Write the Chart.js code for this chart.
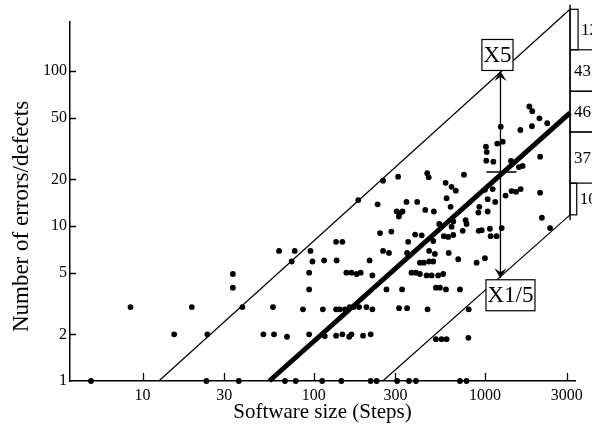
<!DOCTYPE html>
<html>
<head>
<meta charset="utf-8">
<script src="https://cdn.jsdelivr.net/npm/chart.js@4.4.1/dist/chart.umd.min.js"></script>
<style>
  html, body { margin: 0; padding: 0; background: #fff; }
  #wrap { position: relative; width: 592px; height: 441px; }
</style>
</head>
<body>
<div id="wrap"><canvas id="chart"></canvas></div>
<script>
// Axis ticks
const X_TICKS = [10, 30, 100, 300, 1000, 3000]
const Y_TICKS = [1, 2, 5, 10, 20, 50, 100]
const Y_TITLE = 'Number of errors/defects'

// Scatter: software size (steps) vs number of errors/defects
const SIZE = [
  5.0, 8.5, 15.3, 19.4, 23.9, 33.7, 33.7, 38.3, 23.6, 36.5,
  62.7, 77.4, 74.3, 57.8, 50.8, 58.6, 69.8, 67.9, 78.5,
  1816, 1890, 2080, 2310, 1880, 1610, 1236, 1270, 1180, 1014,
  1024, 1018, 1120, 1420, 1580, 1660, 2100, 460, 469, 754,
  311, 254, 182, 589, 638, 676, 597, 1000, 1110, 1320,
  1430, 1520, 1617, 2100, 1037, 1148, 927, 915, 1037, 630,
  348, 402, 236, 305, 318, 330, 314, 448, 503, 541,
  653, 639, 771, 781, 741, 919, 957, 1069, 1253, 1080,
  1170, 2150, 2400, 575, 610, 653, 499, 391, 427, 356,
  244, 284, 135, 147, 95.7, 98.3, 115, 136, 212, 254,
  275, 351, 472, 510, 614, 698, 1000, 894, 417, 440,
  472, 499, 94, 155, 166, 178, 188, 220, 372, 395,
  417, 456, 488, 533, 570, 94, 266, 328, 517, 546,
  592, 714, 86.5, 113, 135, 142, 152, 162, 171, 184,
  203, 220, 315, 351, 462, 804, 94, 116, 135, 147,
  161, 166, 194, 215, 517, 558, 597, 800,
  112, 145, 215, 233, 307, 360, 395, 714, 780
]
const DEFECTS = [
  1, 3, 2, 3, 2, 4.9, 4.0, 3, 1, 1,
  6.9, 6.9, 5.9, 3, 2, 2, 1.93, 1, 1,
  59, 55, 49.5, 46, 44, 41.6, 43.7, 35, 34, 32.5,
  30, 26.4, 26, 26.3, 24, 24.4, 28, 21.9, 20.6, 21.4,
  20.8, 19.6, 14.7, 19, 17.9, 16.9, 15.1, 17.1, 17.3, 15.7,
  16.8, 16.6, 17.3, 16.4, 14.9, 14.3, 13.3, 12.2, 12.4, 13.3,
  14.3, 14.3, 13.8, 12.4, 12.1, 12.4, 11.5, 12.7, 12.4, 10.3,
  10.7, 9.9, 10.9, 10.3, 9.3, 9.3, 9.4, 9.6, 9.7, 8.6,
  8.6, 11.3, 9.7, 8.6, 8.5, 8.75, 8.0, 8.8, 8.7, 7.9,
  9.0, 9.2, 7.9, 7.9, 6.9, 5.9, 6.0, 6.0, 6.0, 6.9,
  6.7, 6.7, 6.9, 6.6, 6.7, 6.1, 6.2, 5.8, 5.8, 5.8,
  5.9, 5.9, 5.0, 5.0, 5.0, 4.9, 5.0, 4.8, 5.0, 5.0,
  4.9, 4.8, 4.8, 4.8, 4.9, 3.9, 3.9, 3.9, 4.0, 4.0,
  3.9, 3.9, 2.9, 2.9, 2.9, 2.9, 2.9, 3.0, 3.0, 3.0,
  3.0, 2.9, 2.95, 2.95, 2.9, 2.9, 2.0, 1.95, 1.96, 2.0,
  1.93, 2.0, 1.96, 2.0, 1.86, 1.86, 1.86, 1.9,
  1, 1, 1, 1, 1, 1, 1, 1, 1
]

// Regression line and the x5 / x1/5 band
const FIT_X = [55, 3140]
const FIT_Y = [1, 53.6]
const UPPER_X = [12.45, 3140]
const UPPER_Y = [1, 250]
const LOWER_X = [253, 3140]
const LOWER_Y = [1, 11.8]

// Vertical edge + side histogram of residuals
const EDGE_X = [3140, 3140]
const EDGE_Y = [10.9, 267]
const BIN_EDGES = [250, 137, 74, 40.4, 18.9, 11.8]
const BIN_COUNTS = [12, 43, 46, 37, 10]

// Spread marker
const MARK_X = 1232
const MARK_MID = 22.3
const MARK_TOP = 100
const MARK_BOTTOM = 4.6
const MARK_LABELS = ['X5', 'X1/5']

const SERIF = "'Liberation Serif', 'DejaVu Serif', serif"

function pts(xs, ys) { return xs.map((x, i) => ({ x, y: ys[i] })) }
function lineDs(xs, ys, w) {
  return { type: 'line', data: pts(xs, ys), borderColor: '#000', borderWidth: w,
           pointRadius: 0, fill: false, tension: 0, clip: false, borderCapStyle: 'butt' }
}

const extras = {
  id: 'extras',
  afterDatasetsDraw(chart) {
    const { ctx, scales: { x, y } } = chart
    ctx.save()
    ctx.strokeStyle = '#000'
    ctx.fillStyle = '#000'

    // inward tick marks
    ctx.lineWidth = 1.3
    ctx.beginPath()
    X_TICKS.forEach(v => {
      const px = Math.round(x.getPixelForValue(v)) + 0.5
      ctx.moveTo(px, y.bottom); ctx.lineTo(px, y.bottom - 8)
    })
    Y_TICKS.slice(1).forEach(v => {
      const py = Math.round(y.getPixelForValue(v)) + 0.5
      ctx.moveTo(x.left, py); ctx.lineTo(x.left + 6, py)
    })
    ctx.stroke()

    // y title, sitting a bit below the axis centre like the original
    ctx.save()
    ctx.font = `23px ${SERIF}`
    ctx.textAlign = 'center'
    ctx.textBaseline = 'middle'
    ctx.translate(22, (y.top + y.bottom) / 2 + 15)
    ctx.rotate(-Math.PI / 2)
    ctx.fillText(Y_TITLE, 0, 0)
    ctx.restore()

    // side histogram
    const hx = x.getPixelForValue(EDGE_X[0])
    ctx.lineWidth = 1.2
    ctx.font = `17px ${SERIF}`
    ctx.textBaseline = 'middle'
    ctx.textAlign = 'left'
    BIN_COUNTS.forEach((n, i) => {
      const t = y.getPixelForValue(BIN_EDGES[i])
      const b = y.getPixelForValue(BIN_EDGES[i + 1])
      const w = n * 0.67
      ctx.strokeRect(hx, t, w, b - t)
      const tx = w < 15 ? hx + w + 3 : hx + 4
      ctx.fillText(String(n), tx, (t + b) / 2 + 1)
    })

    // vertical x5 / x1/5 arrow
    const ax = x.getPixelForValue(MARK_X)
    const top = y.getPixelForValue(MARK_TOP)
    const bot = y.getPixelForValue(MARK_BOTTOM)
    const mid = y.getPixelForValue(MARK_MID)
    ctx.lineWidth = 1.3
    ctx.beginPath()
    ctx.moveTo(ax, top + 4); ctx.lineTo(ax, bot - 4)
    ctx.moveTo(ax - 14, mid); ctx.lineTo(ax + 16, mid)
    ctx.stroke()
    const head = (tipY, dir) => {
      ctx.beginPath()
      ctx.moveTo(ax, tipY)
      ctx.lineTo(ax - 6, tipY + dir * 10)
      ctx.lineTo(ax, tipY + dir * 6)
      ctx.lineTo(ax + 6, tipY + dir * 10)
      ctx.closePath()
      ctx.fill()
    }
    head(top, 1)
    head(bot, -1)

    // label boxes
    ctx.font = `23px ${SERIF}`
    ctx.textAlign = 'center'
    const box = (label, cx, cy) => {
      const w = ctx.measureText(label).width + 3
      const h = 31
      ctx.fillStyle = '#fff'
      ctx.fillRect(cx - w / 2, cy - h / 2, w, h)
      ctx.lineWidth = 1.2
      ctx.strokeRect(cx - w / 2, cy - h / 2, w, h)
      ctx.fillStyle = '#000'
      ctx.fillText(label, cx, cy + 1)
    }
    box(MARK_LABELS[0], ax - 3, top - 16)
    box(MARK_LABELS[1], ax + 10, bot + 17)
    ctx.restore()
  }
}

new Chart(document.getElementById('chart'), {
  type: 'scatter',
  data: {
    datasets: [
      { data: pts(SIZE, DEFECTS), pointRadius: 2.9, pointBackgroundColor: '#000',
        pointBorderWidth: 0, clip: false },
      lineDs(FIT_X, FIT_Y, 5),
      lineDs(UPPER_X, UPPER_Y, 1.2),
      lineDs(LOWER_X, LOWER_Y, 1.2),
      lineDs(EDGE_X, EDGE_Y, 1.4),
    ],
  },
  options: {
    responsive: true,
    maintainAspectRatio: false,
    animation: false,
    layout: { padding: { top: 22, right: 17, left: 0, bottom: 0 } },
    plugins: { legend: { display: false }, tooltip: { enabled: false } },
    scales: {
      x: {
        type: 'logarithmic', min: 3.77, max: 3357,
        afterBuildTicks: s => { s.ticks = X_TICKS.map(v => ({ value: v })) },
        afterFit: s => { s.height = 60 },
        grid: { display: false, drawTicks: false },
        border: { color: '#000', width: 1.5 },
        ticks: { color: '#000', font: { family: SERIF, size: 16 }, padding: 5,
                 autoSkip: false, maxRotation: 0, callback: v => String(v) },
        title: { display: true, text: 'Software size (Steps)', color: '#000',
                 font: { family: SERIF, size: 21 }, padding: { top: 0, bottom: 16 } },
      },
      y: {
        type: 'logarithmic', min: 1, max: 207,
        afterBuildTicks: s => { s.ticks = Y_TICKS.map(v => ({ value: v })) },
        afterFit: s => { s.width = 70 },
        grid: { display: false, drawTicks: false },
        border: { color: '#000', width: 1.5 },
        ticks: { color: '#000', font: { family: SERIF, size: 16 }, padding: 3,
                 autoSkip: false, callback: v => String(v) },
      },
    },
  },
  plugins: [extras],
})
</script>
</body>
</html>
